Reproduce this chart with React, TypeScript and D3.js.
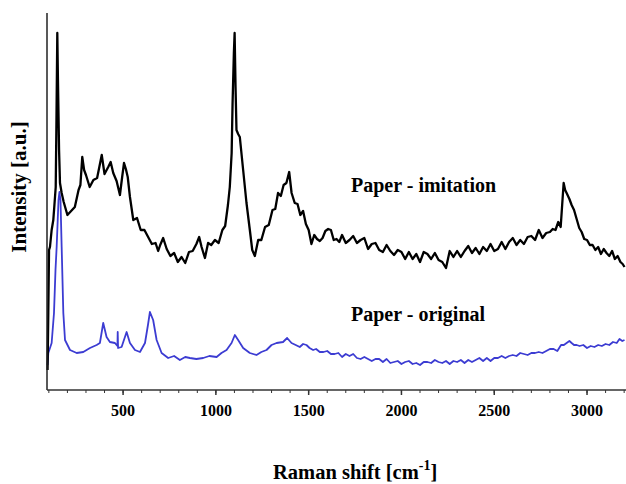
import React from "react";
import * as d3 from "d3";

// [Raman shift (cm-1), intensity (a.u.)], noise included
const imitation: [number, number][] = [
  [93, 20], [97, 77], [101, 140], [106, 143], [115, 160], [124, 170], [130, 185], [137, 203], [141, 270], [145.5, 357],
  [149, 310], [155, 240], [160, 207], [169, 197],
  [180, 188], [200, 175], [220, 179], [240, 183], [260, 200], [270, 205], [280, 233], [290, 220], [300, 215], [320, 203],
  [340, 210], [360, 212], [372, 223], [385, 235], [400, 216], [420, 223], [433, 228], [447, 217], [465, 209], [483, 195],
  [495, 213], [505, 227], [515, 221], [525, 213], [537, 193],
  [555, 170], [575, 172], [595, 160], [615, 160], [635, 153], [655, 146], [675, 147], [689, 139], [700, 145], [716, 152],
  [735, 141], [755, 134], [775, 137], [795, 128], [815, 133], [835, 127], [855, 138], [875, 139], [895, 146], [910, 153],
  [923, 143], [941, 132], [958, 147], [975, 145], [995, 150], [1015, 147], [1035, 160], [1050, 164],
  [1065, 185], [1075, 203], [1085, 237], [1090, 287], [1097, 337], [1101, 357], [1106, 303], [1111, 260], [1120, 256],
  [1129, 253], [1147, 220], [1165, 187], [1183, 160], [1196, 140], [1210, 134], [1228, 150], [1245, 150], [1265, 163],
  [1285, 165], [1305, 180], [1320, 181], [1335, 197], [1350, 194], [1365, 205], [1380, 207], [1395, 218], [1408, 197],
  [1425, 187], [1440, 186], [1455, 175], [1470, 179], [1485, 166],
  [1500, 160], [1515, 146], [1530, 155], [1545, 151], [1560, 149], [1575, 152], [1590, 159], [1605, 161], [1620, 160],
  [1635, 150], [1650, 151], [1665, 148], [1680, 155], [1700, 147], [1720, 150], [1740, 154], [1760, 147], [1780, 150],
  [1800, 152], [1820, 141], [1840, 146], [1860, 147], [1880, 140], [1900, 138], [1920, 145], [1940, 139], [1960, 135],
  [1980, 140], [2000, 138], [2020, 131], [2040, 138], [2060, 131], [2080, 136], [2100, 128], [2120, 138], [2140, 136],
  [2160, 131], [2180, 137], [2200, 130], [2220, 128], [2240, 122], [2260, 139], [2280, 133], [2300, 139], [2320, 133],
  [2340, 139], [2360, 144], [2380, 137], [2400, 142], [2420, 136], [2440, 143], [2460, 139], [2480, 146], [2500, 139],
  [2520, 141], [2540, 148], [2560, 141], [2580, 148], [2600, 152], [2620, 145], [2640, 150], [2660, 146], [2680, 153],
  [2700, 154], [2720, 150], [2740, 160], [2760, 152], [2780, 157], [2800, 158], [2815, 161], [2830, 160], [2845, 168],
  [2858, 163], [2866, 185], [2874, 207], [2882, 200], [2890, 197], [2905, 191], [2917, 185], [2930, 180], [2944, 171],
  [2958, 162], [2971, 158], [2985, 151], [3000, 150], [3015, 145], [3030, 145], [3045, 140], [3060, 143], [3075, 136],
  [3090, 141], [3105, 137], [3120, 134], [3135, 139], [3150, 131], [3165, 134], [3180, 128], [3192, 126], [3202, 123],
];

const original: [number, number][] = [
  [93, 25], [97, 37], [115, 47], [127.7, 77], [135.8, 120], [142, 143], [152, 190], [157, 198], [162.7, 190], [169, 143],
  [178, 77], [187, 50], [214, 40], [250, 37], [285.5, 38], [321.5, 42], [357.6, 45], [375, 47], [393, 67], [411, 53],
  [429, 48], [456, 47], [469.6, 44], [471, 58], [473, 42], [492, 43], [519, 58], [537, 47], [564, 40], [591, 38],
  [618, 47], [634, 65], [644.6, 78], [662, 70], [680.7, 50], [707.6, 37], [743, 32], [775, 34], [806, 30], [835, 33],
  [860, 32], [895, 31], [931.6, 32], [965, 34], [1004, 33], [1030, 37], [1057.6, 40], [1084.5, 47], [1102.3, 55],
  [1120, 50], [1147, 42], [1183, 37], [1219, 35], [1245, 38], [1273, 40], [1300, 45], [1327, 47], [1362, 48], [1384, 52],
  [1407.6, 47], [1430, 45], [1452, 43], [1470, 46], [1488, 45], [1505, 42], [1524, 40],
  [1540, 41], [1560, 38], [1580, 38], [1600, 39], [1620, 36], [1640, 36], [1660, 37], [1680, 33], [1700, 36], [1720, 34],
  [1740, 36], [1760, 32], [1780, 31], [1800, 33], [1820, 31], [1840, 29], [1860, 31], [1880, 31], [1900, 28], [1920, 31],
  [1940, 27], [1960, 28], [1980, 29], [2000, 26], [2020, 28], [2040, 29], [2060, 26], [2080, 27], [2100, 25], [2120, 28],
  [2140, 28], [2160, 27], [2180, 30], [2200, 28], [2220, 27], [2240, 29], [2260, 26], [2280, 29], [2300, 28], [2320, 30],
  [2340, 27], [2360, 30], [2380, 28], [2400, 30], [2420, 32], [2440, 29], [2460, 32], [2480, 29], [2500, 32], [2520, 32],
  [2540, 34], [2560, 32], [2580, 34], [2600, 35], [2620, 34], [2640, 37], [2660, 36], [2680, 35], [2700, 37], [2720, 37],
  [2740, 38], [2760, 37], [2780, 39], [2800, 41], [2820, 41], [2840, 39], [2860, 45], [2875, 45], [2890, 47], [2905, 49],
  [2917, 47], [2930, 45], [2944, 45], [2960, 44], [2980, 45], [3000, 42], [3020, 44], [3040, 43], [3060, 45], [3080, 44],
  [3100, 46], [3120, 45], [3140, 48], [3160, 47], [3175, 51], [3190, 49], [3202, 50],
];

const xTicksMajor = [500, 1000, 1500, 2000, 2500, 3000];
const xTicksMinor = d3.range(100, 3201, 100);

const seriesLabels = ["Paper - imitation", "Paper - original"];

const W = 626;
const H = 484;

export default function App() {
  const x = d3.scaleLinear().domain([90, 3210]).range([47, 626]);
  const y = d3.scaleLinear().domain([0, 377]).range([390, 13]);

  const line = d3
    .line<[number, number]>()
    .x((d) => x(d[0]))
    .y((d) => y(d[1]));

  const font = "'Liberation Serif', 'Times New Roman', serif";

  return (
    <svg
      width={W}
      height={H}
      style={{ position: "absolute", left: 0, top: 0, background: "#fff" }}
      fontFamily={font}
    >
      <rect width={W} height={H} fill="#fff" />
      {/* curves */}
      <path d={line(original) || ""} fill="none" stroke="#3c3cd2" strokeWidth={1.8} strokeLinejoin="round" />
      <path d={line(imitation) || ""} fill="none" stroke="#000" strokeWidth={2.3} strokeLinejoin="round" />

      {/* axes */}
      <line x1={x(90)} x2={x(90)} y1={y(377)} y2={y(0)} stroke="#222" strokeWidth={1.5} />
      <line x1={x(90)} x2={W} y1={y(0)} y2={y(0)} stroke="#333" strokeWidth={1.5} />
      {xTicksMinor.map((t) => (
        <line key={"m" + t} x1={x(t)} x2={x(t)} y1={y(0)} y2={y(0) + 3} stroke="#333" strokeWidth={1} />
      ))}
      {xTicksMajor.map((t) => (
        <g key={"M" + t}>
          <line x1={x(t)} x2={x(t)} y1={y(0)} y2={y(0) + 5} stroke="#333" strokeWidth={1.5} />
          <text x={x(t)} y={416} textAnchor="middle" fontSize={16} fontWeight="bold" fill="#000">
            {t}
          </text>
        </g>
      ))}

      {/* series labels */}
      <text x={351} y={192} fontSize={20} fontWeight="bold" fill="#000">
        {seriesLabels[0]}
      </text>
      <text x={351} y={321} fontSize={20} fontWeight="bold" fill="#000">
        {seriesLabels[1]}
      </text>

      {/* axis titles */}
      <text x={273} y={479} fontSize={20.5} fontWeight="bold" fill="#000">
        Raman shift [cm
        <tspan dy={-9} fontSize={14}>-1</tspan>
        <tspan dy={9}>]</tspan>
      </text>
      <text
        transform={`translate(26,187) rotate(-90)`}
        textAnchor="middle"
        fontSize={21}
        fontWeight="bold"
        fill="#000"
      >
        Intensity [a.u.]
      </text>
    </svg>
  );
}
